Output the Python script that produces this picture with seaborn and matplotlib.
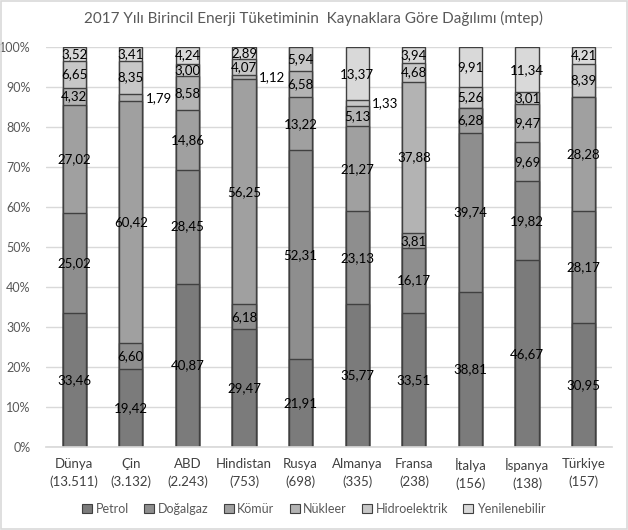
import pandas as pd
import numpy as np
import matplotlib
matplotlib.use('Agg')
import matplotlib.pyplot as plt
import seaborn as sns
from matplotlib.patches import Rectangle, Patch

ulkeler = ['Dünya\n(13.511)', 'Çin\n(3.132)', 'ABD\n(2.243)', 'Hindistan\n(753)', 'Rusya\n(698)',
           'Almanya\n(335)', 'Fransa\n(238)', 'İtalya\n(156)', 'İspanya\n(138)', 'Türkiye\n(157)']
kaynaklar = ['Petrol', 'Doğalgaz', 'Kömür', 'Nükleer', 'Hidroelektrik', 'Yenilenebilir']

petrol = [33.46, 19.42, 40.87, 29.47, 21.91, 35.77, 33.51, 38.81, 46.67, 30.95]
dogalgaz = [25.02, 6.60, 28.45, 6.18, 52.31, 23.13, 16.17, 39.74, 19.82, 28.17]
komur = [27.02, 60.42, 14.86, 56.25, 13.22, 21.27, 3.81, 6.28, 9.69, 28.28]
nukleer = [4.32, 1.79, 8.58, 1.12, 6.58, 5.13, 37.88, 0.0, 9.47, 0.0]
hidro = [6.65, 8.35, 3.00, 4.07, 5.94, 1.33, 4.68, 5.26, 3.01, 8.39]
yenilenebilir = [3.52, 3.41, 4.24, 2.89, 0.04, 13.37, 3.94, 9.91, 11.34, 4.21]

renkler = ['#7b7b7b', '#8e8e8e', '#a0a0a0', '#b3b3b3', '#c7c7c7', '#d9d9d9']

seriler = [petrol, dogalgaz, komur, nukleer, hidro, yenilenebilir]
df = pd.DataFrame({k: v for k, v in zip(kaynaklar, seriler)}, index=ulkeler)
cum = df.cumsum(axis=1)

sns.set_theme(style='white')
plt.rcParams['font.family'] = ['Lato', 'DejaVu Sans']

fig = plt.figure(figsize=(6.28, 5.30), dpi=100)
ax = fig.add_axes([0.0732, 0.1566, 0.9013, 0.7547])

# stacked bars: draw cumulative totals from the top layer down
for kaynak, renk in reversed(list(zip(kaynaklar, renkler))):
    katman = pd.DataFrame({'ulke': ulkeler, 'deger': cum[kaynak].values})
    sns.barplot(data=katman, x='ulke', y='deger', color=renk, width=0.41,
                edgecolor='#404040', linewidth=1.0, saturation=1, errorbar=None, ax=ax)

# data labels
for i, ulke in enumerate(ulkeler):
    alt = 0
    for kaynak in kaynaklar:
        v = df.loc[ulke, kaynak]
        if v >= 0.5:
            txt = f'{v:.2f}'.replace('.', ',')
            if v < 2:
                ax.text(i + 0.26, alt + v / 2, txt, ha='left', va='center', fontsize=9.5, color='black')
            else:
                ax.text(i, alt + v / 2, txt, ha='center', va='center', fontsize=9.5, color='black')
        alt += v

ax.set_ylim(0, 100)
ax.set_xlim(-0.5, 9.5)
ax.set_yticks(np.arange(0, 101, 10))
ax.set_yticklabels([f'{t}%' for t in range(0, 101, 10)])
ax.yaxis.grid(True, color='#d9d9d9', linewidth=1)
ax.set_axisbelow(True)
ax.set_xlabel('')
ax.set_ylabel('')
for s in ['top', 'right', 'left']:
    ax.spines[s].set_visible(False)
ax.spines['bottom'].set_color('#d9d9d9')
ax.tick_params(axis='y', length=0, pad=11, labelsize=9, labelcolor='#595959')
ax.tick_params(axis='x', length=0, pad=8, labelsize=9.5, labelcolor='#404040')
for lbl in ax.get_xticklabels():
    lbl.set_linespacing(1.55)

fig.text(0.5, 0.965, '2017 Yılı Birincil Enerji Tüketiminin  Kaynaklara Göre Dağılımı (mtep)',
         ha='center', va='center', fontsize=11, color='#595959')

handles = [Patch(facecolor=r, edgecolor='#404040', linewidth=0.8) for r in renkler]
fig.legend(handles, kaynaklar, loc='center', bbox_to_anchor=(0.5, 0.04), ncol=6, frameon=False,
           fontsize=9, labelcolor='#595959', handlelength=0.8, handleheight=0.8,
           handletextpad=0.3, columnspacing=1.2)

fig.patches.append(Rectangle((0.001, 0.001), 0.997, 0.997, transform=fig.transFigure,
                             fill=False, edgecolor='#d9d9d9', linewidth=1.2))

fig.savefig('out.png', dpi=100)
